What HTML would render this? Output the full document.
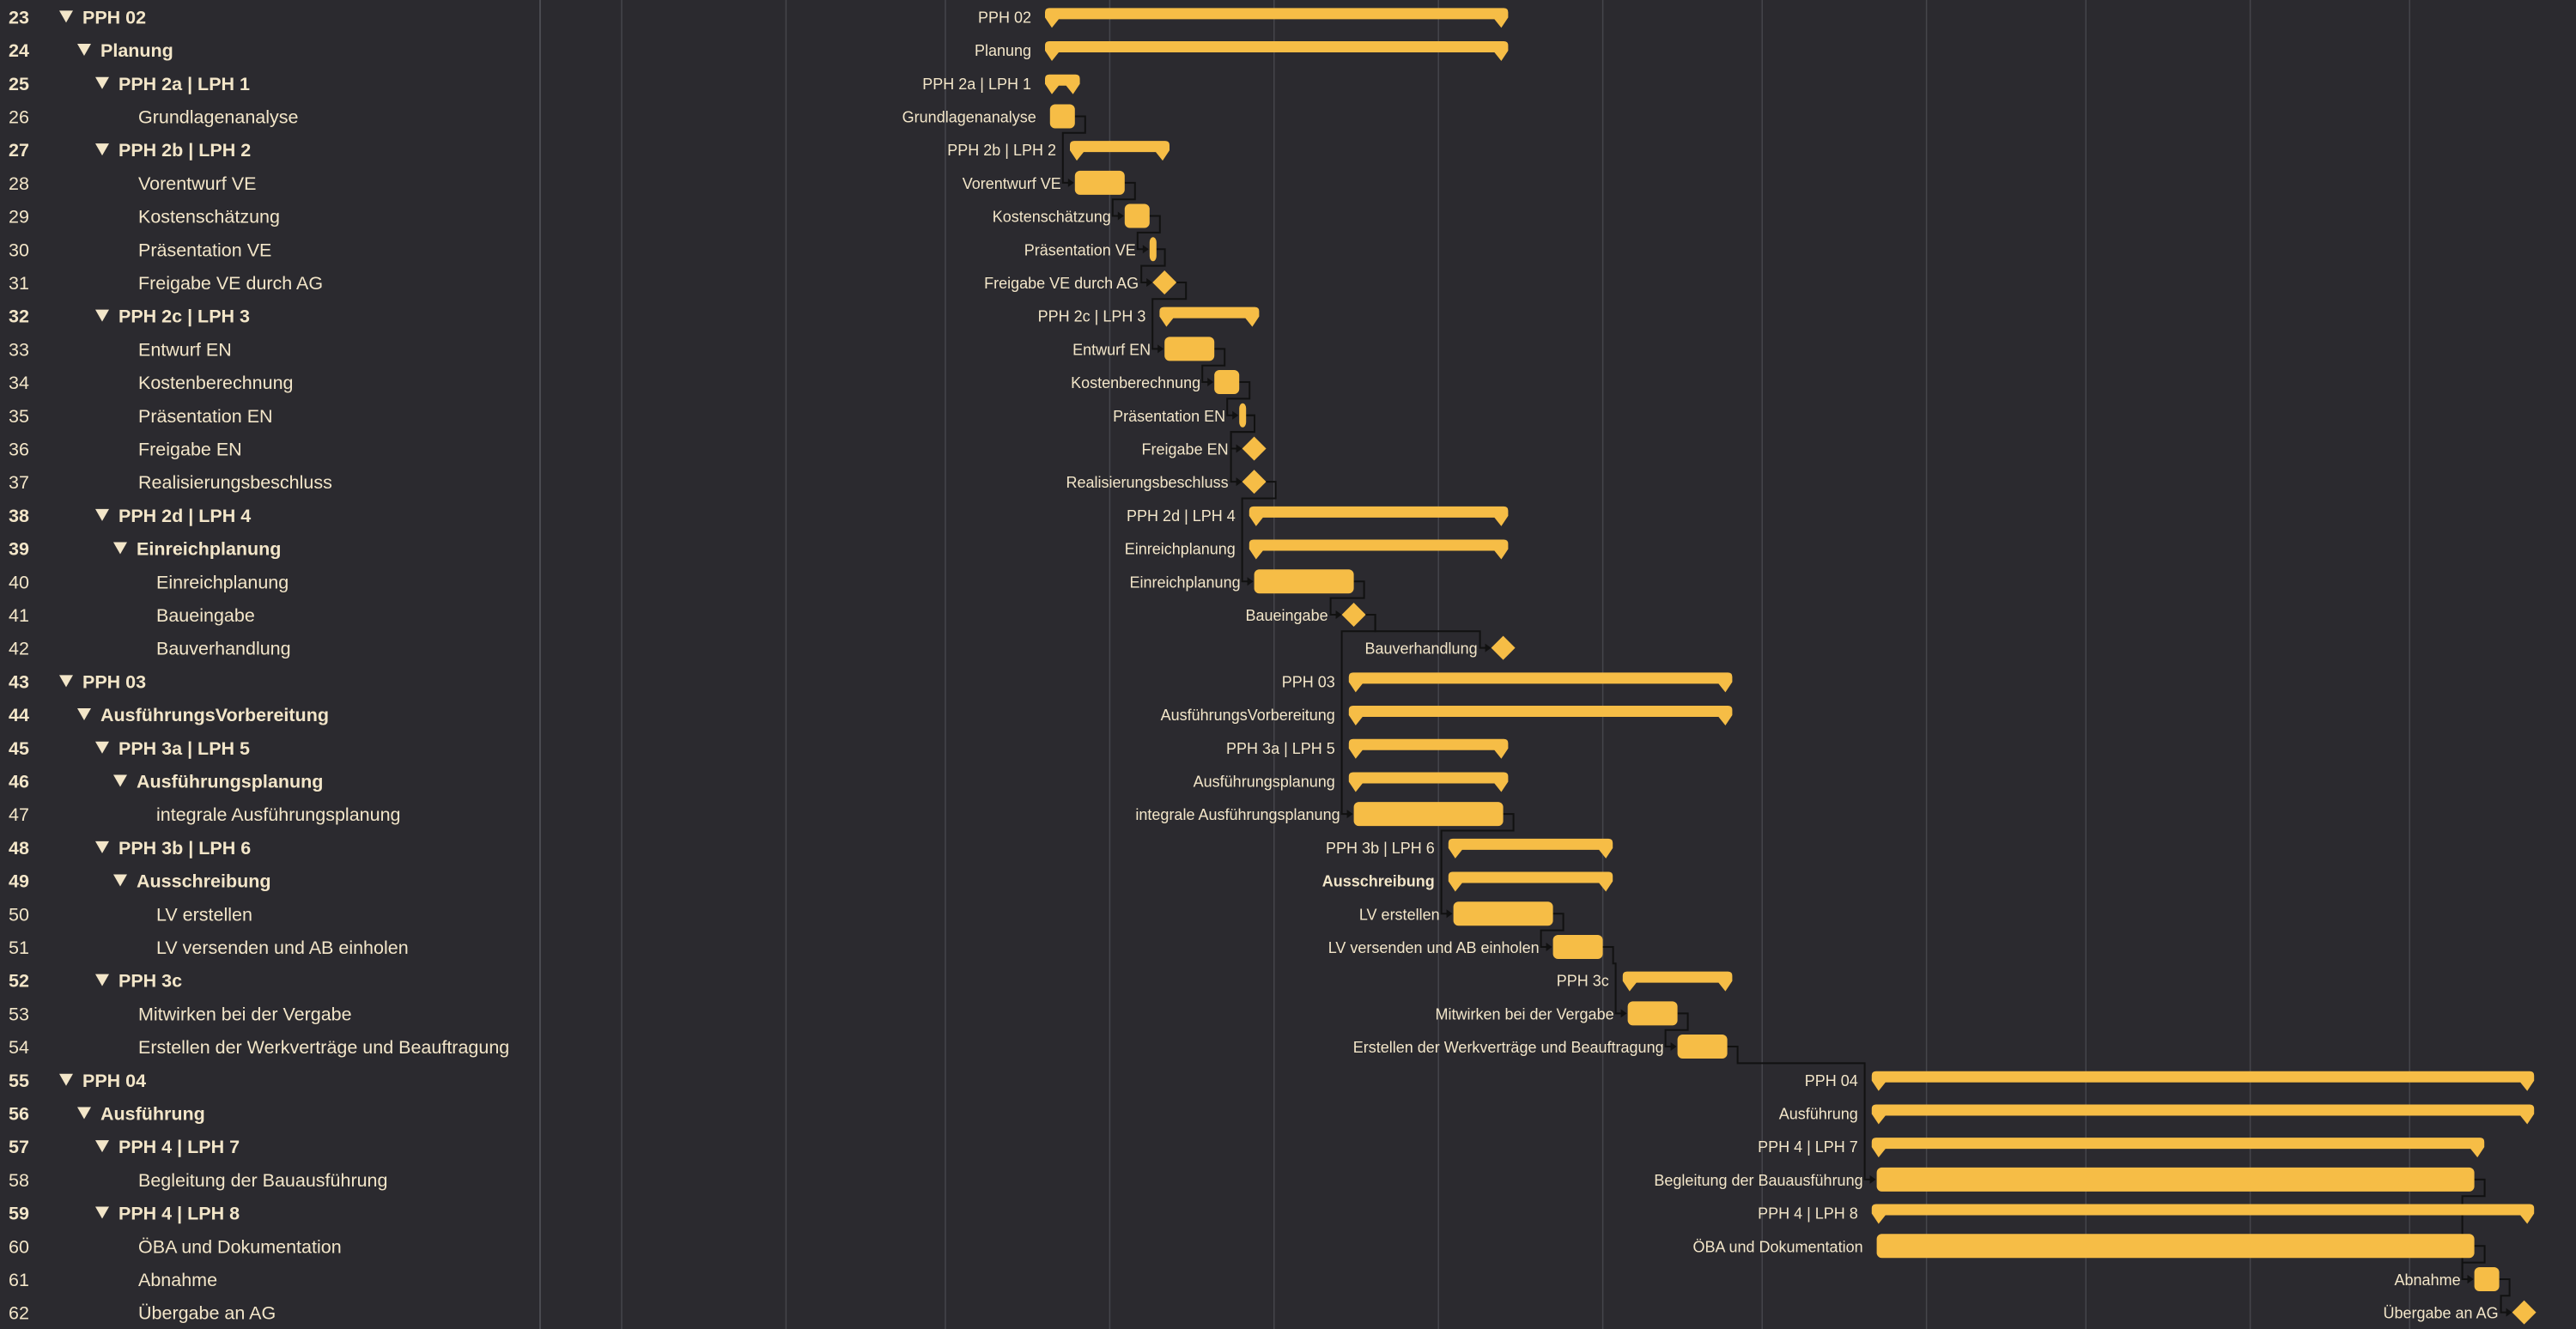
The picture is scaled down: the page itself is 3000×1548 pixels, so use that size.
<!DOCTYPE html>
<html><head><meta charset="utf-8"><style>
html,body{margin:0;padding:0;background:#2b2a2f;}
svg{display:block;font-family:"Liberation Sans",sans-serif;}
</style></head><body>
<svg id="chart" width="3000" height="1548" viewBox="0 0 3000 1548" xmlns="http://www.w3.org/2000/svg">
<rect x="0" y="0" width="3000" height="1548" fill="#2b2a2f"/>
<g id="grid"></g>
<g id="left"></g>
<g id="deps"></g>
<g id="bars"></g>
</svg>
<script>
const rowNums = [23,24,25,26,27,28,29,30,31,32,33,34,35,36,37,38,39,40,41,42,43,44,45,46,47,48,49,50,51,52,53,54,55,56,57,58,59,60,61,62];
const names = ["PPH 02","Planung","PPH 2a | LPH 1","Grundlagenanalyse","PPH 2b | LPH 2","Vorentwurf VE","Kostenschätzung","Präsentation VE","Freigabe VE durch AG","PPH 2c | LPH 3","Entwurf EN","Kostenberechnung","Präsentation EN","Freigabe EN","Realisierungsbeschluss","PPH 2d | LPH 4","Einreichplanung","Einreichplanung","Baueingabe","Bauverhandlung","PPH 03","AusführungsVorbereitung","PPH 3a | LPH 5","Ausführungsplanung","integrale Ausführungsplanung","PPH 3b | LPH 6","Ausschreibung","LV erstellen","LV versenden und AB einholen","PPH 3c","Mitwirken bei der Vergabe","Erstellen der Werkverträge und Beauftragung","PPH 04","Ausführung","PPH 4 | LPH 7","Begleitung der Bauausführung","PPH 4 | LPH 8","ÖBA und Dokumentation","Abnahme","Übergabe an AG"];
const levels = [0,1,2,3,2,3,3,3,3,2,3,3,3,3,3,2,3,4,4,4,0,1,2,3,4,2,3,4,4,2,3,3,0,1,2,3,2,3,3,3];
// s = summary, t = task, m = milestone
const kinds = ["s","s","s","t","s","t","t","t","m","s","t","t","t","m","m","s","s","t","m","m","s","s","s","s","t","s","s","t","t","s","t","t","s","s","s","t","s","t","t","m"];
const starts = [0,0,0,1,5,6,16,21,24,23,24,34,39,42,42,41,41,42,62,92,61,61,61,61,62,81,81,82,102,116,117,127,166,166,166,167,166,167,287,297];
const ends   = [93,93,7,6,25,16,21,22,24,43,34,39,40,42,42,93,93,62,62,92,138,138,93,93,92,114,114,102,112,138,127,137,299,299,289,287,299,287,292,297];
const deps = [[3,5],[5,6],[6,7],[7,8],[8,10],[10,11],[11,12],[12,13],[12,14],[14,17],[17,18],[18,19],[18,24],[24,27],[27,28],[28,30],[30,31],[31,35],[35,38],[37,38],[38,39]];
const gridTicks = [-85,-52,-20,13,46,79,112,144,177,209,242,274];

const ROW=38.7, X0=1217, DAY=5.8;
const xs = d => X0 + d*DAY;
const yc = i => 19.35 + i*ROW;
const NS="http://www.w3.org/2000/svg";
function mk(tag, attrs, parent){const e=document.createElementNS(NS,tag);for(const k in attrs)e.setAttribute(k,attrs[k]);parent.appendChild(e);return e;}
const G=document.getElementById('grid'),L=document.getElementById('left'),D=document.getElementById('deps'),B=document.getElementById('bars');

let div=mk('line',{x1:629,y1:0,x2:629,y2:1548,stroke:'#4a4a50','stroke-width':2},G);


gridTicks.forEach(t=>{
  const l=mk('line',{x1:xs(t),y1:0,x2:xs(t),y2:1548,stroke:'#45454b','stroke-width':1.5},G);
  
  
});

names.forEach((n,i)=>{
  const y=yc(i), bold=kinds[i]==='s';
  const num=mk('text',{x:10,y:y+8,fill:'#f3e6c9','font-size':21.5,'font-weight':bold?'bold':'normal'},L);
  num.textContent=rowNums[i];
  
  
  if(bold){
    const tx=69+21*levels[i];
    const tri=mk('path',{d:`M${tx},${y-7} L${tx+16},${y-7} L${tx+8},${y+7} Z`,fill:'#f3e6c9'},L);
    
    
  }
  const t=mk('text',{x:96+21*levels[i]+(bold?0:2),y:y+8,fill:'#f3e6c9','font-size':21.5,'font-weight':bold?'bold':'normal'},L);
  t.textContent=n;
  
  
});

deps.forEach(([a,b])=>{
  const ea = kinds[a]==='m'? xs(ends[a])+13 : xs(ends[a]);
  const sb = kinds[b]==='m'? xs(starts[b])-13 : xs(starts[b]);
  const ya=yc(a), yb=yc(b), ym=ya+ROW/2;
  const p=mk('path',{d:`M${ea},${ya} H${ea+12} V${ym} H${sb-14} V${yb} H${sb-3}`,fill:'none',stroke:'#111','stroke-width':2},D);
  
  
  const ar=mk('path',{d:`M${sb-1},${yb} L${sb-8},${yb-5} L${sb-8},${yb+5} Z`,fill:'#111'},D);
  
  
});

names.forEach((n,i)=>{
  const y=yc(i), k=kinds[i];
  let left;
  if(k==='s'){
    const x1=xs(starts[i]), x2=xs(ends[i]);
    const p=mk('path',{d:`M${x1},${y-5} Q${x1},${y-10} ${x1+5},${y-10} H${x2-5} Q${x2},${y-10} ${x2},${y-5} V${y+1} L${x2-8},${y+13} L${x2-16},${y+3} H${x1+16} L${x1+8},${y+13} L${x1},${y+1} Z`,fill:'#f6bd46'},B);
    
    
    left=x1;
  } else if(k==='t'){
    const x1=xs(starts[i]), x2=xs(ends[i]);
    const r=mk('rect',{x:x1,y:y-14,width:Math.max(x2-x1,8),height:28,rx:6,fill:'#f6bd46'},B);
    
    
    left=x1;
  } else {
    const x=xs(starts[i]);
    const p=mk('path',{d:`M${x},${y-14} L${x+14},${y} L${x},${y+14} L${x-14},${y} Z`,fill:'#f6bd46'},B);
    
    
    left=x-14;
  }
  const lb=mk('text',{x:left-16,y:y+7,fill:'#f3e6c9','font-size':18,'text-anchor':'end','font-weight':(i===26)?'bold':'normal'},B);
  lb.textContent=n;
  
  
});
</script>
</body></html>
